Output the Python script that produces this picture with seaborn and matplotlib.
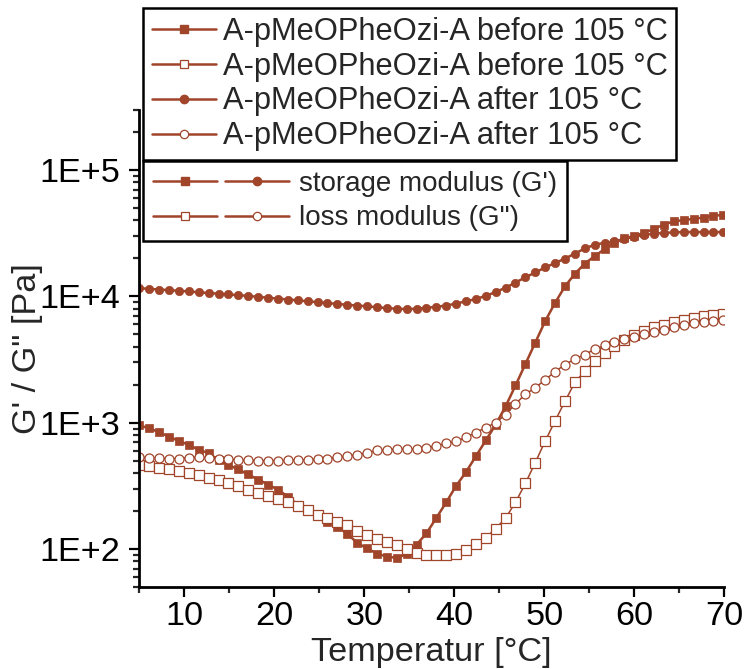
import matplotlib
matplotlib.use("Agg")
import matplotlib.pyplot as plt
from matplotlib.lines import Line2D
from matplotlib.legend_handler import HandlerTuple
from matplotlib.ticker import FuncFormatter, LogLocator, MultipleLocator
import numpy as np
import pandas as pd
import seaborn as sns

# temperature steps of the heating ramp [°C]
temp = [5.0, 6.1, 7.2, 8.3, 9.4, 10.5, 11.6, 12.7, 13.8, 14.9,
        16.0, 17.1, 18.2, 19.3, 20.4, 21.5, 22.6, 23.7, 24.8, 25.9,
        27.0, 28.1, 29.2, 30.3, 31.4, 32.5, 33.6, 34.7, 35.8, 36.9,
        38.0, 39.1, 40.2, 41.3, 42.4, 43.5, 44.6, 45.7, 46.8, 47.9,
        49.0, 50.1, 51.2, 52.3, 53.4, 54.5, 55.6, 56.7, 57.8, 58.9,
        60.0, 61.1, 62.2, 63.3, 64.4, 65.5, 66.6, 67.7, 68.8, 69.9]

# storage modulus before 105 °C
g1_before = [955, 902, 841, 776, 716, 668, 610, 575, 507, 463,
             427, 389, 355, 324, 295, 260, 224, 204, 184, 164,
             150, 132, 112, 101, 92, 87, 85, 91, 108, 133,
             176, 234, 316, 407, 543, 724, 966, 1349, 1972, 2917,
             4315, 6383, 8913, 12023, 15136, 18197, 20893, 23714, 26607, 28840,
             30200, 31989, 34277, 37154, 39355, 40272, 41210, 42170, 43652, 44157]

# loss modulus before 105 °C
g2_before = [465, 453, 441, 428, 414, 398, 384, 367, 352, 331,
             313, 295, 280, 265, 251, 234, 219, 202, 187, 177,
             165, 155, 140, 129, 120, 114, 107, 100, 93, 90,
             89, 90, 92, 98, 110, 123, 145, 176, 234, 331,
             484, 716, 1035, 1479, 2089, 2570, 3090, 3548, 4074, 4519,
             4955, 5370, 5689, 5957, 6237, 6531, 6792, 6998, 7161, 7278]

# storage modulus after 105 °C
g1_after = [11641, 11482, 11350, 11220, 11092, 10965, 10789, 10641, 10520, 10375,
            10233, 10093, 9931, 9772, 9616, 9462, 9311, 9162, 9016, 8872,
            8730, 8590, 8472, 8356, 8222, 8091, 7998, 7943, 7998, 8128,
            8279, 8472, 8790, 9162, 9550, 10116, 10839, 11749, 12882, 14191,
            15488, 16982, 18408, 19953, 21878, 23988, 25704, 26607, 27290, 28510,
            29785, 30690, 31405, 31842, 32211, 32359, 32359, 32359, 32359, 32359]

# loss modulus after 105 °C
g2_after = [533, 528, 524, 520, 520, 530, 536, 527, 519, 513,
            507, 504, 501, 501, 501, 504, 507, 509, 513, 520,
            533, 545, 558, 579, 603, 612, 617, 617, 617, 631,
            658, 685, 713, 767, 836, 916, 1000, 1161, 1413, 1679,
            1897, 2188, 2541, 2884, 3199, 3467, 3819, 4093, 4365, 4571,
            4753, 5012, 5224, 5458, 5689, 5916, 6109, 6252, 6353, 6457]

label_before = "A-pMeOPheOzi-A before 105 °C"
label_after = "A-pMeOPheOzi-A after 105 °C"

brown = "#A0442A"

sns.set_style("ticks")
plt.rcParams["font.family"] = ["Liberation Sans", "DejaVu Sans"]

fig = plt.figure(figsize=(7.47, 6.69), dpi=100)
ax = fig.add_axes([0.1865, 0.1226, 0.7831, 0.713])

df = pd.DataFrame({"T": temp, "g1b": g1_before, "g2b": g2_before,
                   "g1a": g1_after, "g2a": g2_after})

# G' curves, filled markers
sns.lineplot(data=df, x="T", y="g1b", ax=ax, color=brown, lw=1.8,
             marker="s", ms=6, mfc=brown, mec=brown, mew=0.5)
sns.lineplot(data=df, x="T", y="g1a", ax=ax, color=brown, lw=1.8,
             marker="o", ms=6, mfc=brown, mec=brown, mew=0.5)
# G'' curves, open markers
sns.lineplot(data=df, x="T", y="g2b", ax=ax, color=brown, lw=1.1,
             marker="s", ms=6.5, mfc="white", mec=brown, mew=0.9)
sns.lineplot(data=df, x="T", y="g2a", ax=ax, color=brown, lw=1.1,
             marker="o", ms=6.5, mfc="white", mec=brown, mew=0.9)

ax.set_yscale("log")
ax.set_xlim(5, 70)
ax.set_ylim(50, 3e5)
ax.xaxis.set_major_locator(MultipleLocator(10))
ax.xaxis.set_minor_locator(MultipleLocator(5))
ax.yaxis.set_major_locator(LogLocator(base=10, numticks=10))
ax.yaxis.set_minor_locator(LogLocator(base=10, subs=np.arange(2, 10), numticks=20))
ax.yaxis.set_major_formatter(FuncFormatter(lambda v, p: "1E+%d" % round(np.log10(v))))
ax.yaxis.set_minor_formatter(FuncFormatter(lambda v, p: ""))

ax.set_xlabel("Temperatur [°C]", fontsize=24.7, labelpad=4)
ax.set_ylabel("G' / G\" [Pa]", fontsize=24.7, labelpad=-3)
ax.tick_params(axis="both", which="major", labelsize=24.7, length=7, width=1.6,
               direction="out", colors="black")
ax.tick_params(axis="x", which="major", pad=3)
ax.tick_params(axis="y", which="major", pad=7)
ax.tick_params(axis="both", which="minor", length=4, width=1.6, direction="out")
sns.despine(ax=ax)
for s in ["left", "bottom"]:
    ax.spines[s].set_linewidth(2)
    ax.spines[s].set_color("black")

# legend handles
h_fs = Line2D([], [], color=brown, lw=1.8, marker="s", ms=6, mfc=brown, mec=brown)
h_os = Line2D([], [], color=brown, lw=1.8, marker="s", ms=6, mfc="white", mec=brown, mew=0.9)
h_fc = Line2D([], [], color=brown, lw=1.8, marker="o", ms=6, mfc=brown, mec=brown)
h_oc = Line2D([], [], color=brown, lw=1.8, marker="o", ms=6, mfc="white", mec=brown, mew=0.9)

leg_kw = dict(frameon=True, fancybox=False, edgecolor="black",
              framealpha=1, borderaxespad=0, loc="upper left")

leg1 = fig.legend([h_fs, h_os, h_fc, h_oc],
                  [label_before, label_before, label_after, label_after],
                  bbox_to_anchor=(143 / 747, 1 - 8 / 669), fontsize=22.2,
                  handlelength=2.1, handletextpad=0.2, borderpad=0.28,
                  labelspacing=0.16, **leg_kw)
leg1.get_frame().set_linewidth(1.8)

leg2 = fig.legend([(h_fs, h_fc), (h_os, h_oc)],
                  ["storage modulus (G')", "loss modulus (G\")"],
                  handler_map={tuple: HandlerTuple(ndivide=None, pad=0.3)},
                  bbox_to_anchor=(143 / 747, 1 - 161 / 669), fontsize=20,
                  handlelength=4.9, handletextpad=0.35, borderpad=0.36,
                  labelspacing=0.3, **leg_kw)
leg2.get_frame().set_linewidth(1.8)

fig.savefig("out.png", dpi=100)
